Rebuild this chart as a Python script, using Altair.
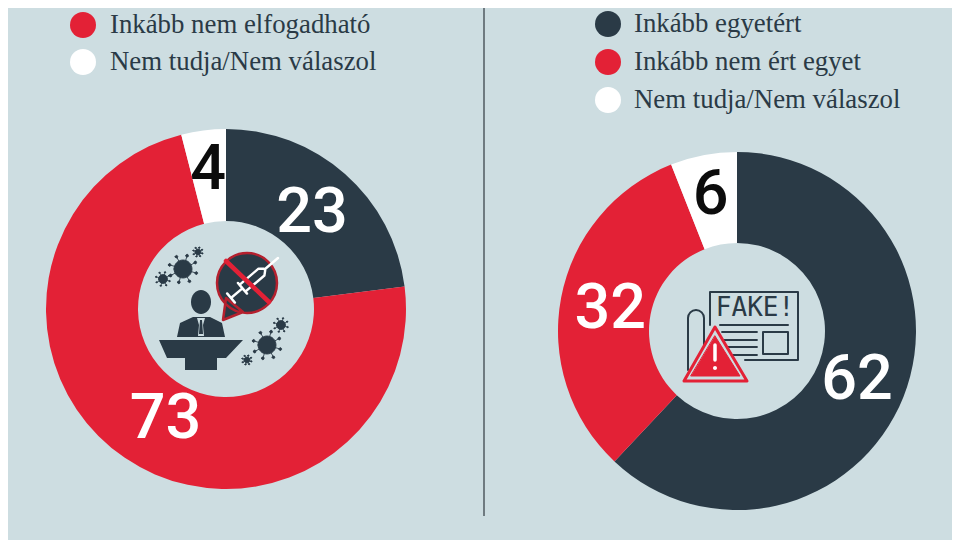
import math
import altair as alt
import pandas as pd

BG = "#cddde1"
RED = "#e32136"
DARK = "#2a3a46"
WHITE = "#ffffff"

left_categories = ["Inkább elfogadható", "Inkább nem elfogadható", "Nem tudja/Nem válaszol"]
left_values = [23, 73, 4]
right_categories = ["Inkább egyetért", "Inkább nem ért egyet", "Nem tudja/Nem válaszol"]
right_values = [62, 32, 6]
left_legend = ["Inkább nem elfogadható", "Nem tudja/Nem válaszol"]
right_legend = ["Inkább egyetért", "Inkább nem ért egyet", "Nem tudja/Nem válaszol"]

domain = ["Inkább elfogadható", "Inkább egyetért", "Inkább nem elfogadható", "Inkább nem ért egyet", "Nem tudja/Nem válaszol"]
colors = [DARK, DARK, RED, RED, WHITE]
color_scale = alt.Scale(domain=domain, range=colors)
NUM_FONT = "Roboto"
LEG_FONT = "Liberation Serif"
OFF = 8


def donut(cats, vals, cx, cy, outer, inner, radius_expr, mid_expr):
    df = pd.DataFrame({"cat": cats, "value": vals, "idx": list(range(len(cats)))})
    base = alt.Chart(df)
    arcs = base.mark_arc(outerRadius=outer, innerRadius=inner).encode(
        theta=alt.Theta("value:Q", stack=True, scale=alt.Scale(domain=[0, 100])),
        color=alt.Color("cat:N", scale=color_scale, legend=None),
        order=alt.Order("idx:Q"),
        x=alt.value(cx - OFF),
        y=alt.value(cy - OFF),
    )
    labels = base.transform_stack(
        stack="value", groupby=[], sort=[alt.SortField("idx", "ascending")], as_=["s0", "s1"]
    ).transform_calculate(mid=mid_expr, r=radius_expr).mark_text(
        font=NUM_FONT, fontSize=63, fontWeight=500, baseline="middle", align="center", dy=2
    ).encode(
        theta=alt.Theta("mid:Q", stack=False, scale=alt.Scale(domain=[0, 100])),
        radius=alt.Radius("r:Q", scale=None),
        text=alt.Text("value:Q"),
        color=alt.condition("datum.value < 10", alt.value("#0c0c0c"), alt.value(WHITE)),
        x=alt.value(cx - OFF),
        y=alt.value(cy - OFF),
    )
    return [arcs, labels]


def legend(names, x_dot, x_text, ys):
    layers = []
    for name, y in zip(names, ys):
        d = pd.DataFrame({"cat": [name]})
        layers.append(alt.Chart(d).mark_point(filled=True, size=676, opacity=1, shape="circle").encode(
            x=alt.value(x_dot - OFF), y=alt.value(y - OFF),
            color=alt.Color("cat:N", scale=color_scale, legend=None)))
        layers.append(alt.Chart(d).mark_text(font=LEG_FONT, fontSize=26.8, align="left", baseline="middle", color=DARK).encode(
            x=alt.value(x_text - OFF), y=alt.value(y - OFF), text="cat:N"))
    return layers


# ---- decorative icons: outlines in page pixels ----
one = pd.DataFrame({"a": [0]})


def P(x, y):
    return f"{x - OFF:.1f} {y - OFF:.1f}"


def poly(pts, close=True):
    return "M" + " L".join(P(*p) for p in pts) + ("Z" if close else "")


def circ(cx, cy, r):
    return f"M{P(cx - r, cy)} A{r} {r} 0 1 0 {P(cx + r, cy)} A{r} {r} 0 1 0 {P(cx - r, cy)}Z"


def ell(cx, cy, rx, ry):
    return f"M{P(cx - rx, cy)} A{rx} {ry} 0 1 0 {P(cx + rx, cy)} A{rx} {ry} 0 1 0 {P(cx - rx, cy)}Z"


def icon(d, fill=None, stroke=None, sw=1.0):
    kw = {}
    if fill:
        kw["fill"] = fill
        kw["filled"] = True
    else:
        kw["filled"] = False
    if stroke:
        kw["stroke"] = stroke
        kw["strokeWidth"] = sw
    else:
        kw["strokeWidth"] = 0
    return alt.Chart(one).mark_point(shape=d, size=4, opacity=1, strokeJoin="round", strokeCap="round", **kw).encode(
        x=alt.value(0), y=alt.value(0))


def virus(cx, cy, r, n=8):
    d = [circ(cx, cy, r)]
    spikes = []
    for i in range(n):
        a = 2 * math.pi * i / n + 0.3
        x1, y1 = cx + r * math.cos(a), cy + r * math.sin(a)
        x2, y2 = cx + 1.55 * r * math.cos(a), cy + 1.55 * r * math.sin(a)
        spikes.append(poly([(x1, y1), (x2, y2)], close=False))
        d.append(circ(x2, y2, max(0.7, r * 0.14)))
    return icon(" ".join(d + spikes), fill=DARK, stroke=DARK, sw=max(0.8, r * 0.1))


def syringe(x0, y0, x1, y1):
    L = math.hypot(x1 - x0, y1 - y0)
    ux, uy = (x1 - x0) / L, (y1 - y0) / L
    vx, vy = -uy, ux

    def loc(u, v):
        return (x0 + ux * u + vx * v, y0 + uy * u + vy * v)
    parts = [
        poly([loc(0, -6), loc(0, 6)], False),
        poly([loc(0, 0), loc(15, 0)], False),
        poly([loc(15, -7), loc(15, 7)], False),
        poly([loc(15, -4.5), loc(40, -4.5), loc(44, -1), loc(44, 1), loc(40, 4.5), loc(15, 4.5)]),
        poly([loc(44, 0), loc(L, 0)], False),
    ]
    return icon(" ".join(parts), stroke=WHITE, sw=2.4)


icons = [
    # left: speaker at the podium
    icon(ell(201, 302, 10, 12), fill=DARK),
    icon(poly([(177, 337), (180, 323), (193, 317), (210, 317), (222, 323), (225, 337)]), fill=DARK),
    icon(poly([(197, 318), (205, 318), (203, 325), (204, 336), (198, 336), (199, 325)]), fill=BG),
    icon(poly([(200, 320), (202, 320), (203, 334), (199, 334)]), fill=DARK),
    icon(poly([(159, 340), (243, 340), (226, 358), (217, 358), (217, 370), (185, 370), (185, 358), (167, 358)]), fill=DARK),
    icon(circ(247, 283, 30) + " " + poly([(226, 298), (223, 320), (243, 312)]), fill=DARK, stroke="#b5202e", sw=2.5),
    syringe(231, 298, 278, 258),
    icon(poly([(226, 261), (269, 302)], False), stroke=RED, sw=4.5),
    virus(183, 269, 9), virus(163, 279, 4.5), virus(198, 252, 3),
    virus(267, 345, 9), virus(281, 325, 4.5), virus(247, 360, 3),
    # right: fake-news newspaper
    icon(poly([(710, 325), (710, 292), (798, 292), (798, 360), (745, 360)], False), stroke=DARK, sw=2),
    icon(poly([(720, 325), (788, 325)], False), stroke=DARK, sw=2),
    icon(" ".join(poly([(722, y), (757, y)], False) for y in (332, 340, 347, 355)), stroke=DARK, sw=1.8),
    icon("M" + P(763, 332) + " L" + P(788, 332) + " L" + P(788, 354) + " L" + P(763, 354) + "Z", stroke=DARK, sw=2),
    icon("M" + P(688, 370) + " L" + P(688, 318) + " A8 8 0 0 1 " + P(704, 318) + " L" + P(704, 348), stroke=DARK, sw=2),
    icon(poly([(715, 327), (747, 381), (684, 381)]), fill=BG, stroke=RED, sw=3),
    icon(poly([(715, 336), (740, 376), (691, 376)]), fill=RED, stroke=RED, sw=1),
    icon(poly([(715, 345), (715, 360)], False), stroke=WHITE, sw=3.5),
    icon(circ(715, 368, 2), fill=WHITE),
]
fake_text = alt.Chart(one).mark_text(font="DejaVu Sans Mono", fontSize=26, color=DARK, align="center", baseline="middle").encode(
    x=alt.value(755 - OFF), y=alt.value(308 - OFF), text=alt.value("FAKE!"))

divider = alt.Chart(one).mark_rule(color="#6f7a80", strokeWidth=2).encode(
    x=alt.value(484 - OFF), y=alt.value(0), y2=alt.value(516 - OFF))

layers = (
    [divider]
    + legend(left_legend, 83, 110, [25, 62])
    + legend(right_legend, 608, 634, [24, 62, 100])
    + donut(left_categories, left_values, 226, 309, 180, 88,
            "datum.value < 10 ? 142 : datum.value > 50 ? 124 : 130",
            "(datum.s0 + datum.s1) / 2 + (datum.value > 50 ? -1.4 : 0)")
    + donut(right_categories, right_values, 737, 331, 179, 88,
            "datum.value < 10 ? 140 : 129",
            "(datum.s0 + datum.s1) / 2")
    + icons
    + [fake_text]
)

chart = alt.layer(*layers).properties(
    width=944, height=532, background=BG, padding=0,
    autosize=alt.AutoSizeParams(type="none"),
).configure_view(stroke=None)

chart.save("out.html", embed_options={"renderer": "svg", "actions": False})
